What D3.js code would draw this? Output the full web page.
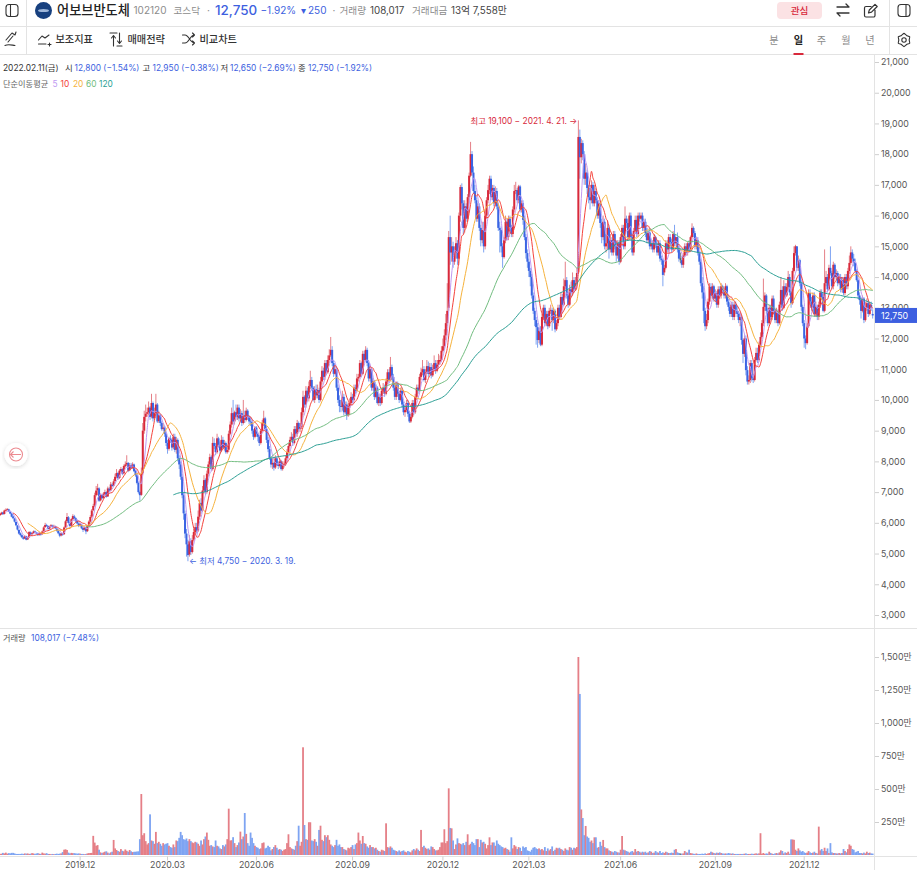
<!DOCTYPE html>
<html lang="ko">
<head>
<meta charset="utf-8">
<title>어보브반도체 102120</title>
<script src="https://cdn.jsdelivr.net/npm/d3@7/dist/d3.min.js"></script>
<style>
html,body{margin:0;padding:0;background:#fff;overflow:hidden}
svg{display:block;font-family:Inter,"Noto Sans CJK KR","Noto Sans",sans-serif}
.tick text{font-family:Inter,"Noto Sans CJK KR","Noto Sans",sans-serif}
</style>
</head>
<body>
<svg id="chart" width="917" height="870"></svg>
<script>
// Daily quotes, 20 sessions per row, in units of 10 won.
const priceOpen = [
625,628,634,629,641,643,644,636,630,621,614,603,591,577,566,560,553,549,556,546,
553,569,563,567,572,569,565,561,566,563,573,586,593,589,581,588,591,587,589,581,
574,566,559,565,563,586,606,618,600,591,612,621,615,606,598,591,594,583,578,584,
573,591,604,620,641,656,690,706,712,673,690,681,694,700,686,711,706,724,721,736,
751,762,746,769,775,761,784,790,795,771,788,780,790,769,755,730,700,691,762,900,
945,955,960,975,946,990,941,958,985,931,950,925,906,910,891,860,841,874,870,846,
880,838,870,811,790,750,690,630,565,530,497,540,505,545,570,586,575,620,665,640,
705,740,700,760,790,815,775,860,850,830,875,853,835,870,845,860,830,838,890,920,
957,930,960,945,975,940,957,925,950,935,965,945,930,928,900,880,910,890,880,860,
900,925,940,905,870,840,810,790,795,780,810,790,785,800,775,788,790,810,830,850,
870,880,860,905,890,925,905,912,960,1010,985,1030,1005,1045,1065,1040,1000,1035,1015,1032,
1000,1060,1095,1075,1120,1090,1130,1145,1163,1120,1085,1100,1040,1000,980,977,1010,960,985,950,
980,990,1010,1000,1040,1030,1070,1075,1120,1085,1150,1130,1163,1120,1070,1100,1040,1060,1010,1040,
990,1010,990,1030,1040,1020,1060,1090,1065,1107,1075,1040,1010,1050,1020,1000,1030,985,960,967,
990,955,930,945,990,960,1010,1040,1030,1075,1090,1100,1065,1090,1110,1085,1107,1080,1100,1120,
1095,1115,1125,1130,1160,1175,1210,1250,1300,1530,1480,1500,1450,1480,1510,1460,1600,1693,1640,1560,
1630,1590,1660,1730,1800,1740,1680,1650,1590,1630,1560,1520,1553,1500,1600,1650,1683,1720,1660,1690,
1640,1680,1630,1560,1553,1500,1465,1520,1580,1530,1590,1563,1540,1620,1680,1683,1650,1695,1620,1640,
1586,1530,1478,1450,1420,1400,1340,1290,1260,1237,1195,1225,1180,1270,1300,1250,1280,1240,1290,1293,
1260,1290,1230,1250,1300,1270,1335,1310,1370,1390,1340,1310,1360,1348,1390,1360,1380,1415,1856,1790,
1836,1800,1720,1740,1690,1660,1650,1700,1640,1680,1650,1600,1640,1576,1530,1580,1500,1510,1560,1490,
1520,1480,1540,1500,1470,1510,1450,1530,1560,1500,1590,1576,1530,1600,1530,1480,1550,1586,1540,1600,
1590,1600,1560,1580,1543,1520,1545,1500,1510,1490,1530,1504,1480,1510,1460,1455,1415,1430,1510,1490,
1530,1514,1490,1540,1510,1530,1490,1460,1455,1440,1470,1500,1480,1510,1490,1530,1560,1543,1500,1520,
1478,1450,1380,1350,1290,1240,1260,1320,1368,1340,1370,1330,1348,1310,1360,1340,1370,1358,1340,1370,
1320,1303,1280,1310,1270,1310,1290,1280,1260,1270,1195,1150,1200,1097,1060,1065,1120,1070,1065,1130,
1153,1130,1180,1205,1250,1303,1340,1290,1250,1300,1270,1330,1290,1260,1283,1250,1310,1358,1300,1370,
1340,1368,1400,1350,1315,1420,1478,1500,1430,1455,1380,1303,1250,1200,1185,1240,1348,1320,1300,1340,
1280,1303,1270,1310,1350,1335,1290,1380,1400,1360,1430,1413,1370,1440,1400,1413,1380,1400,1360,1390,
1348,1400,1370,1420,1446,1480,1460,1446,1420,1390,1340,1325,1290,1330,1260,1300,1315,1280,1310,1280
];
const priceHigh = [
632,636,636,643,647,648,646,638,632,624,616,605,593,579,569,562,556,560,558,555,
573,572,569,575,575,571,567,570,568,575,589,600,597,592,591,596,594,594,591,583,
577,569,568,568,588,610,632,622,603,615,628,626,618,609,601,600,597,586,588,587,
593,608,625,645,662,698,720,727,716,695,694,700,708,703,718,716,733,730,742,760,
775,766,775,782,778,790,800,820,798,795,795,797,793,772,760,735,705,780,925,965,
985,975,995,980,1020,995,975,1020,990,965,955,930,925,915,895,870,880,885,875,890,
890,880,875,820,800,760,700,640,580,545,560,550,560,580,600,600,640,675,680,720,
755,745,770,800,825,820,880,875,860,890,880,865,885,880,870,865,855,900,930,975,
1000,965,985,985,985,970,965,1000,965,975,970,950,945,935,905,915,915,895,885,905,
935,965,945,915,880,850,815,810,800,820,815,800,810,805,800,800,820,840,860,880,
895,890,915,915,935,930,925,975,1030,1015,1045,1040,1060,1095,1075,1045,1045,1050,1050,1040,
1075,1110,1105,1130,1130,1145,1165,1205,1175,1130,1115,1110,1050,1015,1000,1030,1020,995,995,990,
1005,1025,1020,1050,1050,1085,1085,1130,1125,1160,1160,1175,1170,1130,1110,1105,1070,1065,1050,1045,
1020,1020,1040,1055,1050,1070,1100,1100,1140,1115,1085,1050,1060,1060,1030,1040,1040,995,975,1000,
1000,965,955,1000,1000,1020,1050,1050,1085,1105,1130,1110,1100,1130,1125,1120,1120,1115,1145,1130,
1130,1150,1145,1175,1200,1230,1280,1380,1550,1600,1530,1515,1500,1530,1520,1610,1700,1705,1650,1650,
1640,1670,1740,1840,1810,1760,1700,1660,1640,1640,1570,1580,1580,1620,1660,1700,1730,1730,1700,1700,
1695,1690,1640,1580,1565,1510,1530,1600,1590,1600,1600,1570,1630,1700,1710,1690,1700,1700,1650,1650,
1600,1540,1490,1460,1430,1410,1350,1300,1270,1250,1235,1240,1280,1310,1310,1290,1290,1300,1310,1300,
1300,1295,1260,1310,1310,1350,1345,1395,1450,1400,1350,1375,1385,1415,1400,1400,1430,1910,1880,1850,
1845,1810,1770,1750,1700,1700,1715,1710,1700,1690,1660,1650,1650,1590,1600,1590,1540,1585,1570,1540,
1530,1550,1550,1520,1520,1520,1540,1570,1570,1630,1600,1590,1610,1610,1540,1560,1600,1600,1610,1610,
1610,1610,1590,1590,1560,1550,1560,1520,1520,1540,1535,1515,1520,1520,1470,1460,1440,1520,1520,1540,
1540,1525,1550,1570,1530,1545,1500,1480,1470,1480,1510,1510,1515,1520,1535,1575,1565,1550,1530,1530,
1485,1460,1400,1370,1300,1280,1330,1380,1380,1380,1375,1360,1355,1370,1370,1380,1375,1365,1380,1375,
1330,1315,1320,1320,1320,1320,1305,1290,1285,1275,1200,1210,1210,1110,1080,1130,1130,1085,1140,1170,
1170,1190,1220,1260,1395,1350,1345,1300,1310,1310,1340,1340,1300,1300,1295,1320,1400,1370,1390,1380,
1380,1420,1410,1360,1430,1500,1505,1500,1470,1460,1390,1310,1260,1210,1250,1360,1360,1335,1350,1350,
1320,1310,1320,1360,1360,1345,1490,1420,1410,1440,1500,1420,1450,1445,1425,1420,1410,1410,1400,1400,
1410,1410,1430,1470,1500,1490,1475,1460,1425,1395,1350,1335,1340,1335,1320,1330,1325,1315,1320,1295
];
const priceLow = [
622,626,626,627,638,641,635,628,618,612,601,589,575,562,556,550,545,547,543,544,
551,560,560,564,567,562,557,558,558,561,571,584,587,577,578,586,584,584,580,571,
563,553,556,558,561,583,600,597,586,588,608,611,602,595,586,588,579,570,575,563,
570,588,600,616,638,652,686,690,668,670,676,678,690,682,684,700,703,716,718,732,
745,740,743,765,755,758,780,785,765,768,775,775,765,750,725,695,672,688,758,890,
930,945,950,935,940,930,935,950,925,925,915,900,900,880,850,825,835,860,835,840,
830,825,800,775,740,680,610,550,490,475,490,495,500,540,560,565,570,610,630,635,
695,690,695,750,780,770,770,840,820,825,845,825,830,840,835,825,825,830,885,910,
920,920,935,935,930,930,915,920,925,930,935,920,915,890,870,875,880,865,850,855,
895,915,900,860,830,805,780,775,770,775,785,775,780,770,770,780,785,805,825,845,
865,850,855,880,880,895,895,905,950,975,975,995,995,1035,1030,995,990,1005,1005,990,
995,1050,1065,1065,1080,1085,1120,1140,1110,1075,1080,1030,990,960,960,965,950,955,935,945,
950,985,990,995,1020,1025,1060,1070,1075,1080,1120,1125,1110,1060,1060,1030,1030,1000,1005,985,
980,980,985,1020,1010,1015,1050,1055,1060,1065,1030,1000,1000,1010,990,995,975,950,945,960,
945,925,925,940,950,955,1000,1020,1025,1065,1080,1060,1055,1085,1075,1080,1070,1075,1095,1085,
1090,1105,1115,1125,1155,1165,1195,1240,1290,1440,1450,1430,1440,1460,1440,1440,1580,1620,1540,1545,
1580,1580,1650,1725,1730,1670,1640,1580,1580,1550,1500,1510,1480,1490,1590,1640,1670,1650,1650,1630,
1630,1620,1550,1480,1480,1430,1460,1510,1520,1520,1550,1530,1530,1610,1670,1640,1640,1610,1610,1570,
1520,1460,1430,1400,1370,1330,1280,1240,1180,1170,1185,1175,1175,1260,1240,1240,1230,1235,1280,1225,
1250,1220,1225,1240,1260,1265,1300,1305,1360,1330,1300,1305,1335,1340,1350,1355,1375,1410,1720,1770,
1780,1700,1700,1670,1640,1620,1640,1630,1630,1640,1590,1590,1560,1510,1520,1490,1480,1490,1460,1480,
1470,1470,1490,1450,1460,1440,1445,1520,1490,1490,1560,1520,1520,1520,1470,1470,1540,1530,1530,1580,
1585,1550,1550,1530,1510,1510,1490,1490,1480,1480,1495,1470,1470,1450,1440,1370,1405,1425,1480,1480,
1500,1480,1485,1500,1500,1480,1450,1445,1430,1430,1465,1470,1470,1480,1485,1525,1530,1490,1490,1470,
1440,1370,1330,1250,1225,1230,1250,1310,1330,1330,1320,1320,1300,1300,1330,1330,1345,1330,1330,1310,
1290,1270,1270,1260,1260,1280,1270,1250,1240,1180,1120,1140,1080,1050,1050,1055,1060,1055,1060,1125,
1120,1125,1170,1200,1240,1290,1280,1240,1245,1260,1260,1280,1250,1250,1240,1245,1300,1290,1295,1330,
1335,1360,1340,1300,1310,1415,1470,1420,1420,1370,1290,1240,1170,1165,1180,1235,1310,1290,1290,1270,
1270,1260,1260,1300,1325,1285,1285,1370,1350,1355,1405,1360,1360,1395,1390,1370,1375,1350,1350,1340,
1340,1360,1360,1410,1440,1450,1435,1415,1385,1330,1310,1265,1285,1250,1255,1290,1270,1275,1290,1265
];
const priceClose = [
629,633,628,640,642,645,637,630,620,615,604,592,578,565,560,553,548,557,545,552,
570,563,566,572,570,565,560,567,562,572,585,593,590,580,588,592,586,590,582,574,
566,558,565,562,585,605,619,600,590,612,622,615,605,598,590,595,582,577,585,572,
590,604,619,640,655,690,705,713,672,690,680,695,700,685,712,705,725,720,735,750,
762,745,770,775,760,785,790,795,770,788,780,790,768,755,730,700,690,760,900,945,
955,960,975,945,990,940,957,985,930,950,925,905,910,890,860,840,875,870,845,880,
837,870,810,790,750,690,631,565,530,495,540,505,544,570,586,575,620,664,640,705,
739,700,760,790,814,775,860,850,830,875,853,835,870,845,860,830,837,890,920,957,
930,960,945,975,940,957,925,950,935,965,945,930,928,900,880,910,890,880,860,900,
925,940,905,870,840,810,790,795,780,810,790,785,800,775,788,790,810,830,850,870,
880,860,905,890,925,905,912,960,1010,985,1030,1005,1045,1065,1040,1000,1035,1015,1032,1000,
1060,1095,1075,1120,1090,1130,1145,1163,1120,1085,1100,1040,1000,980,977,1010,960,985,950,980,
990,1010,1000,1040,1030,1070,1075,1120,1085,1150,1130,1163,1120,1070,1100,1040,1060,1010,1040,990,
1010,990,1030,1040,1020,1060,1090,1065,1107,1075,1040,1010,1050,1020,1000,1030,985,960,967,990,
955,930,945,990,960,1010,1040,1030,1075,1090,1100,1065,1090,1110,1085,1107,1080,1100,1120,1095,
1115,1130,1130,1160,1175,1210,1250,1290,1530,1480,1500,1450,1480,1510,1460,1600,1693,1640,1560,1630,
1590,1660,1730,1800,1740,1680,1650,1590,1630,1560,1520,1553,1500,1600,1650,1683,1720,1660,1690,1640,
1680,1630,1560,1553,1500,1465,1520,1580,1530,1590,1563,1540,1620,1680,1683,1650,1695,1620,1640,1586,
1530,1478,1450,1420,1400,1340,1290,1260,1237,1195,1225,1180,1270,1300,1250,1280,1240,1290,1293,1260,
1290,1230,1250,1300,1270,1335,1310,1370,1390,1340,1310,1360,1348,1390,1360,1380,1413,1856,1790,1836,
1800,1720,1740,1690,1660,1650,1700,1640,1680,1650,1600,1640,1576,1530,1580,1500,1510,1560,1490,1520,
1480,1540,1500,1470,1510,1450,1530,1560,1500,1590,1576,1530,1600,1530,1480,1550,1586,1540,1600,1590,
1600,1560,1580,1543,1520,1545,1500,1510,1490,1530,1504,1480,1510,1460,1455,1407,1430,1510,1490,1530,
1514,1490,1540,1510,1530,1490,1460,1460,1440,1470,1500,1480,1510,1490,1530,1560,1543,1500,1520,1478,
1450,1380,1350,1290,1240,1260,1320,1368,1340,1370,1330,1348,1310,1360,1340,1370,1358,1340,1370,1320,
1303,1280,1310,1270,1310,1290,1280,1260,1270,1195,1150,1200,1097,1060,1065,1120,1070,1065,1130,1153,
1130,1180,1205,1250,1303,1340,1290,1250,1300,1270,1330,1290,1260,1283,1250,1310,1358,1300,1370,1340,
1368,1400,1350,1315,1420,1478,1500,1430,1455,1380,1303,1250,1200,1185,1240,1348,1320,1300,1340,1280,
1303,1270,1310,1350,1335,1290,1380,1400,1360,1430,1413,1370,1440,1400,1413,1380,1400,1360,1390,1348,
1400,1370,1420,1446,1480,1460,1446,1420,1390,1340,1325,1290,1330,1260,1300,1315,1280,1310,1300,1275
];
// Daily traded shares, in units of 10,000.
const volumes = [
8,10,16,12,18,10,14,12,16,16,12,8,8,8,8,10,8,12,10,12,
8,10,14,12,8,12,14,10,8,18,12,10,14,8,8,6,8,6,8,10,
8,10,12,22,40,43,38,18,12,16,14,14,12,10,12,10,8,8,6,8,
12,14,15,16,145,94,70,75,40,20,15,20,25,28,18,12,20,25,114,50,
38,30,25,45,32,28,42,32,25,38,28,22,24,25,26,28,120,462,150,165,
105,80,90,308,110,105,85,175,90,100,85,70,90,80,85,90,70,60,55,80,
60,110,105,130,175,150,120,115,125,105,120,105,95,90,100,95,85,70,110,80,
120,140,170,115,70,75,65,60,110,70,65,50,45,75,65,80,120,351,110,112,
135,90,60,75,95,177,120,140,318,160,90,70,170,130,90,70,60,55,45,50,
90,95,50,55,70,60,35,45,60,75,55,40,45,40,30,40,45,90,157,60,
50,45,40,70,105,222,70,100,816,227,120,115,248,248,110,105,120,100,70,190,
222,115,105,150,135,150,115,80,70,60,75,115,70,80,60,60,45,40,35,55,
50,60,75,45,80,90,170,110,85,144,90,85,65,55,75,60,60,50,55,40,
30,25,40,35,30,240,60,55,65,55,40,35,30,25,35,25,30,35,25,20,
30,25,20,35,45,35,50,40,30,190,60,70,55,45,50,40,65,60,45,35,
35,40,60,95,95,195,90,105,505,205,202,110,45,80,126,90,85,80,90,75,
100,157,75,85,100,90,75,120,120,60,115,95,100,85,50,75,134,75,95,95,
70,110,85,75,65,60,50,55,45,40,25,134,50,75,65,45,60,55,30,65,
55,60,35,30,25,40,55,60,50,45,50,40,45,35,60,30,50,35,45,65,
30,40,55,50,55,45,40,30,50,40,35,60,55,40,55,50,60,1500,1220,345,
280,150,220,140,130,100,110,90,134,134,55,60,100,70,114,60,50,50,35,30,
25,20,30,25,20,18,40,144,40,35,30,25,18,25,30,20,45,25,30,25,
18,25,20,25,15,20,30,25,15,18,30,20,18,30,15,20,15,25,20,15,
15,18,15,40,45,20,15,12,10,12,30,20,18,40,15,12,10,8,12,8,
8,8,10,8,12,8,12,15,25,20,15,12,18,15,20,15,12,10,12,10,
15,12,10,12,8,8,8,8,8,8,8,10,12,8,8,8,10,8,10,12,
10,12,165,10,15,8,12,10,25,15,10,8,12,15,12,20,35,30,12,20,
15,25,10,118,118,115,40,30,50,35,25,30,20,15,18,30,20,15,18,25,
15,12,215,35,45,30,55,30,50,15,90,20,15,15,12,12,15,12,15,45,
30,20,45,80,70,45,40,20,25,30,15,15,12,18,12,25,15,18,12,10.8
];
const monthLabels = ["2019.12","2020.03","2020.06","2020.09","2020.12","2021.03","2021.06","2021.09","2021.12"];
const monthSessions = [55,115,176,242,304,363,426,491,552];
const priceTicks = [3000,4000,5000,6000,7000,8000,9000,10000,11000,12000,13000,14000,15000,16000,17000,18000,19000,20000,21000];
const volumeTicks = [250,500,750,1000,1250,1500];
const movingAverages = [
  {period:5,  color:"#c09af2"},
  {period:10, color:"#f4433c"},
  {period:20, color:"#f6b23c"},
  {period:60, color:"#72bd80"},
  {period:120,color:"#2b9f94"}
];
const PRICE_UNIT = 10;
const sessions = d3.range(priceClose.length);

const RED="#d8293b", BLUE="#3b64e3", DOJI="#3a3a3a", GRID="#e3e3e3", TEXT_DIM="#8c8c8c";
const RED_SOFT="#e57f87", BLUE_SOFT="#7ea4f2", DOJI_SOFT="#777";
const PRICE_BLUE="#3d5fe0";
const svg = d3.select("#chart");

const x = d3.scaleBand().domain(sessions).range([-0.73,873.4]);
const centre = i => x(i)+x.bandwidth()/2;
const y = d3.scaleLinear().domain([3000,21000]).range([615,62]);
const yVol = d3.scaleLinear().domain([0,1500]).range([855,657]);
const tone = i => priceClose[i]>priceOpen[i]?RED:priceClose[i]<priceOpen[i]?BLUE:DOJI;
const softTone = i => priceClose[i]>priceOpen[i]?RED_SOFT:priceClose[i]<priceOpen[i]?BLUE_SOFT:DOJI_SOFT;

// Clip marks to the plotting area, left of the price axis.
svg.append("clipPath").attr("id","plot").append("rect").attr("x",0).attr("y",55).attr("width",874.5).attr("height",805);
const plot = svg.append("g").attr("clip-path","url(#plot)");

// Candles: wick first, then body.
const candles = plot.append("g");
candles.selectAll("line").data(sessions).join("line")
  .attr("x1",centre).attr("x2",centre)
  .attr("y1",i=>y(priceHigh[i]*PRICE_UNIT)).attr("y2",i=>y(priceLow[i]*PRICE_UNIT))
  .attr("stroke",softTone).attr("stroke-width",1);
candles.selectAll("rect").data(sessions).join("rect")
  .attr("x",i=>centre(i)-1).attr("width",2)
  .attr("y",i=>y(Math.max(priceOpen[i],priceClose[i])*PRICE_UNIT))
  .attr("height",i=>Math.max(0.8,Math.abs(y(priceOpen[i]*PRICE_UNIT)-y(priceClose[i]*PRICE_UNIT))))
  .attr("fill",tone);

// Simple moving averages over the closes.
const line = d3.line().x(d=>centre(d.i)).y(d=>y(d.v*PRICE_UNIT)).curve(d3.curveMonotoneX);
movingAverages.forEach(m=>{
  const pts=[];
  for(let i=m.period-1;i<priceClose.length;i++){
    pts.push({i,v:d3.mean(priceClose.slice(i-m.period+1,i+1))});
  }
  plot.append("path").attr("d",line(pts)).attr("fill","none").attr("stroke",m.color).attr("stroke-width",1);
});

// Volume bars.
plot.append("g").selectAll("rect").data(sessions).join("rect")
  .attr("x",i=>centre(i)-0.9).attr("width",1.8)
  .attr("y",i=>yVol(volumes[i])).attr("height",i=>yVol(0)-yVol(volumes[i]))
  .attr("fill",softTone);

// Panel separators.
const rule=(x1,y1,x2,y2)=>svg.append("line").attr("x1",x1).attr("y1",y1).attr("x2",x2).attr("y2",y2).attr("stroke",GRID).attr("stroke-width",1);
rule(0,26.5,917,26.5); rule(0,54.5,917,54.5); rule(26.5,0,26.5,54); rule(889.5,0,889.5,54);
rule(0,628.5,917,628.5); rule(0,856.5,917,856.5); rule(874.5,55,874.5,870);

// Axes.
const styleAxis = g=>{
  g.select(".domain").remove();
  g.selectAll(".tick line").attr("stroke","#cfcfcf");
  g.selectAll(".tick text").attr("fill","#555").attr("font-size","8.8px");
};
svg.append("g").attr("transform","translate(875,0)")
  .call(d3.axisRight(y).tickValues(priceTicks).tickSize(4).tickPadding(2).tickFormat(d3.format(",")))
  .call(styleAxis);
svg.append("g").attr("transform","translate(875,0)")
  .call(d3.axisRight(yVol).tickValues(volumeTicks).tickSize(4).tickPadding(2).tickFormat(d=>d3.format(",")(d)+"만"))
  .call(styleAxis);
svg.append("g").attr("transform","translate(0,856.5)")
  .call(d3.axisBottom(x).tickValues(monthSessions).tickSize(4).tickPadding(1).tickFormat((d,i)=>monthLabels[i]))
  .call(styleAxis);

// Text helper used by the header rows and annotations.
const label=(t,px,py,opt={})=>svg.append("text").attr("x",px).attr("y",py).text(t)
  .attr("font-size",(opt.size||9)+"px").attr("font-weight",opt.weight||400)
  .attr("fill",opt.fill||"#333").attr("text-anchor",opt.anchor||"start").attr("dominant-baseline","central");

// Last-price tag on the axis.
const lastClose = priceClose[priceClose.length-1]*PRICE_UNIT;
svg.append("rect").attr("x",875).attr("y",y(lastClose)-7.5).attr("width",42).attr("height",15).attr("fill",PRICE_BLUE);
label(d3.format(",")(lastClose),881,y(lastClose),{size:8.8,fill:"#fff"});

// Period extremes, read from the quote series.
const hiIdx=d3.greatestIndex(priceHigh), loIdx=d3.leastIndex(priceLow);
label("최고 "+d3.format(",")(priceHigh[hiIdx]*PRICE_UNIT)+" − 2021. 4. 21. →",centre(hiIdx)-1,120.5,{size:8.4,fill:RED,anchor:"end"});
label("← 최저 "+d3.format(",")(priceLow[loIdx]*PRICE_UNIT)+" − 2020. 3. 19.",centre(loIdx)+1,561,{size:8.4,fill:PRICE_BLUE});

// OHLC read-out.
const ohlc=[["2022.02.11(금)",3,"#333"],["시",65,"#333"],["12,800 (−1.54%)",74.5,PRICE_BLUE],["고",142.5,"#333"],["12,950 (−0.38%)",152.5,PRICE_BLUE],["저",220.5,"#333"],["12,650 (−2.69%)",230,PRICE_BLUE],["종",298,"#333"],["12,750 (−1.92%)",308,PRICE_BLUE]];
ohlc.forEach(([t,px,c])=>label(t,px,67.5,{size:8.4,fill:c}));
label("단순이동평균",3,84,{size:8.2,fill:"#666"});
[[movingAverages[0],52.5],[movingAverages[1],60.5],[movingAverages[2],73],[movingAverages[3],86],[movingAverages[4],99]]
  .forEach(([m,px])=>label(String(m.period),px,84,{size:8.4,fill:m.color}));
label("거래량",3,637.5,{size:8.2,fill:"#555"});
label("108,017 (−7.48%)",31,637.5,{size:8.4,fill:PRICE_BLUE});

// Top row: instrument summary.
svg.append("circle").attr("cx",43.5).attr("cy",10.5).attr("r",8.5).attr("fill","#17407f");
svg.append("ellipse").attr("cx",43.5).attr("cy",10.5).attr("rx",5.5).attr("ry",1.6).attr("fill","#9fb7da");
label("어보브반도체",57,9.5,{size:13.2,weight:500,fill:"#222"});
label("102120",133.5,10,{size:10,fill:TEXT_DIM});
label("코스닥",173.5,10,{size:9.6,fill:TEXT_DIM});
label("·",207,10,{size:10,fill:TEXT_DIM});
label("12,750",215,9.5,{size:13.4,weight:500,fill:PRICE_BLUE});
label("−1.92%",260.5,10,{size:10,fill:PRICE_BLUE});
label("▾",300.5,10,{size:10,fill:PRICE_BLUE});
label("250",308,10,{size:10,fill:PRICE_BLUE});
label("·",332.5,10,{size:10,fill:TEXT_DIM});
label("거래량",339.5,10,{size:9.6,fill:TEXT_DIM});
label("108,017",370,10,{size:9.8,fill:"#444"});
label("거래대금",412,10,{size:9.6,fill:TEXT_DIM});
label("13억 7,558만",451,10,{size:9.8,fill:"#444"});

svg.append("rect").attr("x",777).attr("y",2).attr("width",45).attr("height",17).attr("rx",4).attr("fill","#fbe2e4");
label("관심",799.5,10,{size:9.6,weight:500,fill:RED,anchor:"middle"});

// Second row: tools and chart periods.
label("보조지표",55.5,39,{size:10.2,weight:500,fill:"#333"});
label("매매전략",127.5,39,{size:10.2,weight:500,fill:"#333"});
label("비교차트",199.5,39,{size:10.2,weight:500,fill:"#333"});
[["분",774,TEXT_DIM,400],["일",798.5,"#222",700],["주",821.5,TEXT_DIM,400],["월",846,TEXT_DIM,400],["년",870,TEXT_DIM,400]]
  .forEach(([t,px,c,w])=>label(t,px,40,{size:10.2,fill:c,weight:w,anchor:"middle"}));
svg.append("rect").attr("x",793.5).attr("y",53).attr("width",10).attr("height",2).attr("fill",RED);

// Toolbar glyphs.
const icon=(d,w)=>svg.append("path").attr("d",d).attr("fill","none").attr("stroke","#333").attr("stroke-width",w||1.1).attr("stroke-linecap","round").attr("stroke-linejoin","round");
const panel=(px)=>{svg.append("rect").attr("x",px).attr("y",4.5).attr("width",12).attr("height",12).attr("rx",3).attr("fill","none").attr("stroke","#333").attr("stroke-width",1.1);};
panel(6); icon("M10.5 4.5V16.5"); panel(898); icon("M906 4.5V16.5");
icon("M5 45.5C8 44 11 45 15 45.5M6 40L12 33L15 35L16 32M13 36L8 42");
icon("M38.5 44H46M38.5 40L42 36L45 38L49 35M48 44.5H51M49.5 43V46");
icon("M110 33H117M113.5 46V36M111.5 38L113.5 35.5L115.5 38M119.5 33V43M117.5 41L119.5 43.5L121.5 41M117 46H122");
icon("M182.5 35H185C189 35 190 43 194.5 43M182.5 43H185C189 43 190 35 194.5 35M192.5 33L194.5 35L192.5 37M192.5 41L194.5 43L192.5 45");
icon("M837 7H849M846 4L849 7M849 13H837M840 16L837 13",1.3);
icon("M875 10V15.5A1.5 1.5 0 0 1 873.5 17H866A1.5 1.5 0 0 1 864.5 15.5V8A1.5 1.5 0 0 1 866 6.5H871M868.5 13L869.3 10L875 4.3L877.2 6.5L871.5 12.2Z",1.2);
// Settings cog: twelve alternating radii around the hub.
const cog = d3.lineRadial().angle((d,i)=>i*Math.PI/6).radius((d,i)=>i%2?5.2:6.6).curve(d3.curveCardinalClosed.tension(0.6));
svg.append("path").attr("transform","translate(904,40)").attr("d",cog(d3.range(12))).attr("fill","none").attr("stroke","#333").attr("stroke-width",1.1);
svg.append("circle").attr("cx",904).attr("cy",40).attr("r",2.2).attr("fill","none").attr("stroke","#333").attr("stroke-width",1.1);

// Scroll-back button on the price pane.
svg.append("filter").attr("id","soft").append("feDropShadow").attr("dx",0).attr("dy",1).attr("stdDeviation",2).attr("flood-color","#000").attr("flood-opacity",0.16);
svg.append("circle").attr("cx",16).attr("cy",454.5).attr("r",11.5).attr("fill","#fff").attr("filter","url(#soft)");
svg.append("circle").attr("cx",16).attr("cy",454.5).attr("r",6.5).attr("fill","none").attr("stroke","#ec8a90").attr("stroke-width",1.1);
svg.append("path").attr("d","M10.5 454.5H21M13.5 451.5L10.5 454.5L13.5 457.5").attr("fill","none").attr("stroke","#ec8a90").attr("stroke-width",1.1);
</script>
</body>
</html>
